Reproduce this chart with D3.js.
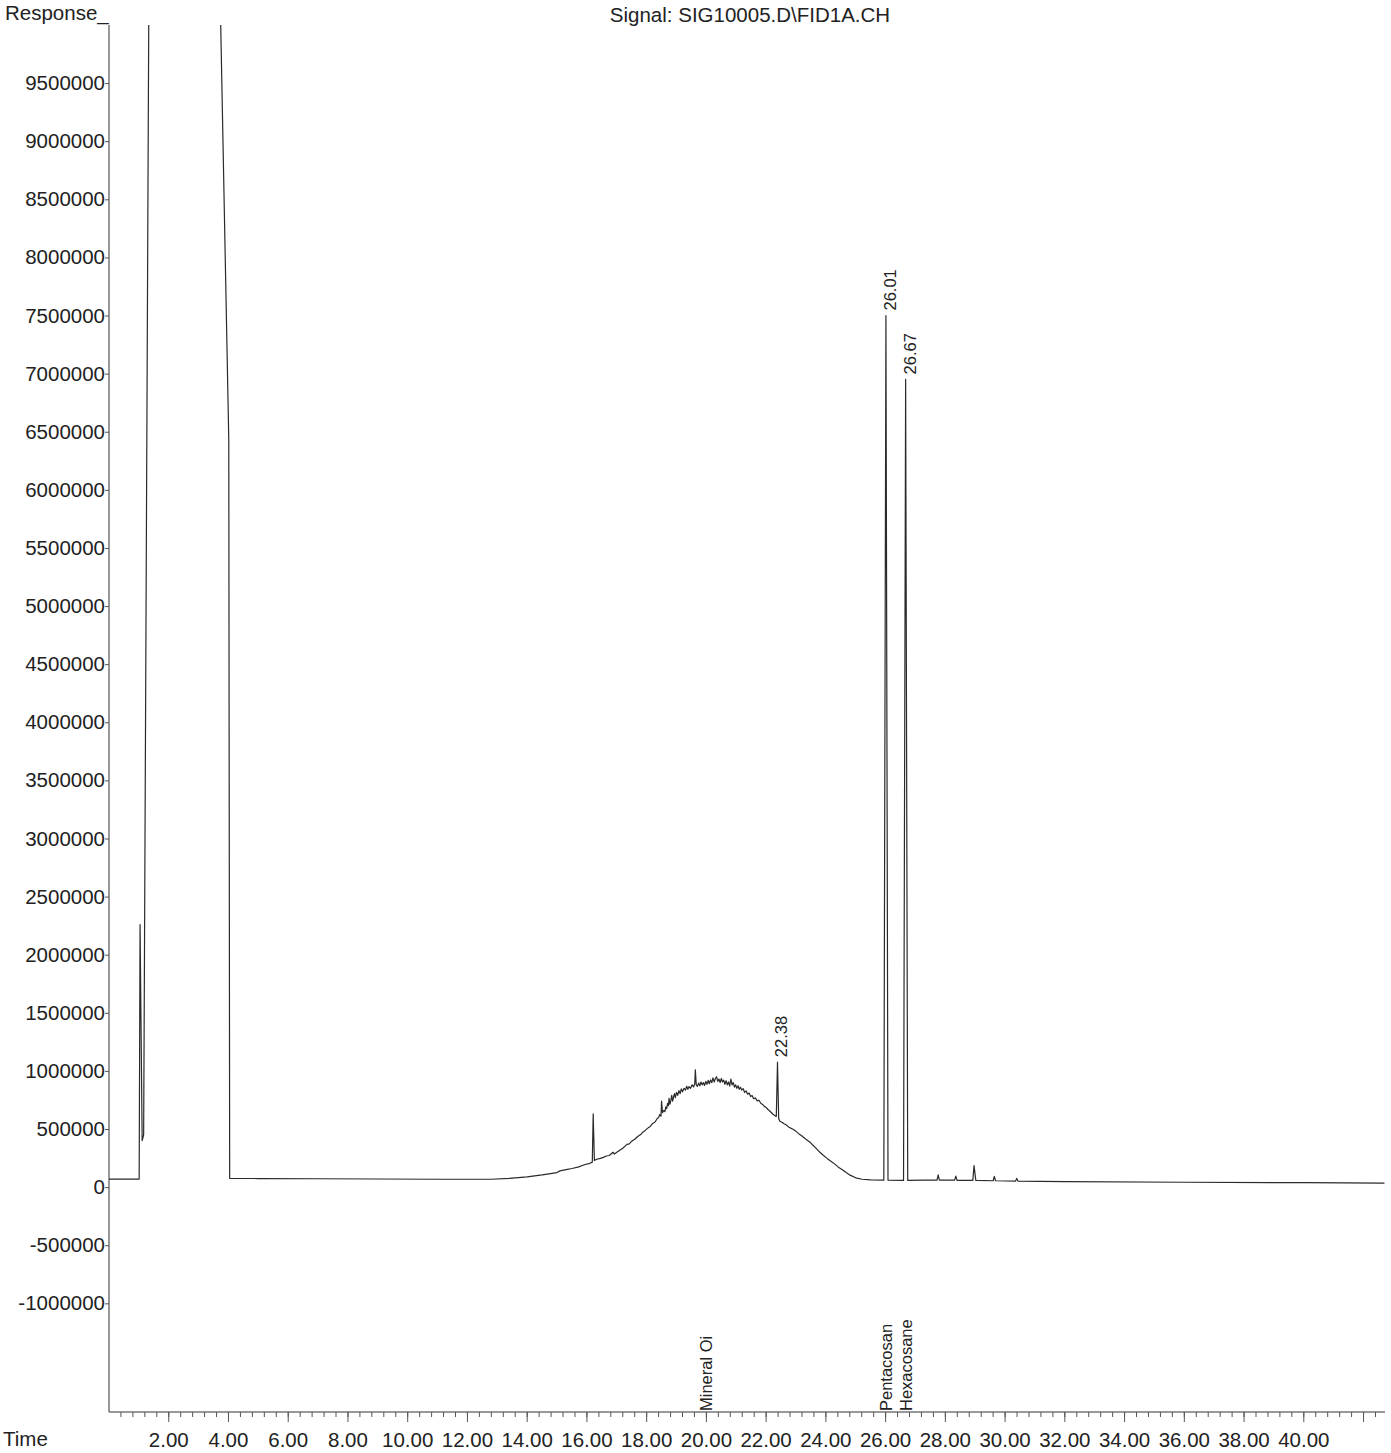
<!DOCTYPE html>
<html>
<head>
<meta charset="utf-8">
<script src="https://cdn.jsdelivr.net/npm/d3@7"></script>
<style>
  body { margin: 0; background: #fff; }
  svg text { font-family: "Liberation Sans", Arial, sans-serif; fill: #222; }
</style>
</head>
<body>
<div id="chart"></div>
<script>
// chromatogram signal (time in min, response counts)
var titleText = "Signal: SIG10005.D\\FID1A.CH";

var baselineStart = [[0.0, 69000], [1.01, 69000]];

// small spike + solvent peak (off scale)
var solventPeak = [
  [1.04, 2260000], [1.11, 400000], [1.16, 450000], [1.33, 10000000],
  [1.38, 13000000], [3.60, 13000000], [3.74, 10000000], [4.01, 6430000],
  [4.04, 76000]
];

var flatRun = [
  [5.0, 74000], [7.0, 72000], [9.0, 70000], [11.0, 68000], [12.8, 68000]
];

// mineral oil hump (noisy top)
var hump = [
  [13.4, 75000], [14.0, 88000], [14.5, 105000], [15.0, 125000], [15.10, 140000],
  [15.30, 150000], [15.50, 160000], [15.70, 172000], [15.94, 195000], [16.10, 205000],
  [16.18, 215000], [16.21, 630000], [16.25, 230000], [16.33, 240000], [16.45, 248000],
  [16.55, 256000], [16.65, 268000], [16.75, 272000], [16.87, 300000], [16.92, 285000],
  [17.00, 300000], [17.10, 318000], [17.20, 335000], [17.34, 368000], [17.42, 372000],
  [17.50, 395000], [17.60, 412000], [17.70, 436000], [17.80, 452000], [17.88, 475000],
  [17.95, 488000], [18.05, 510000], [18.12, 522000], [18.20, 548000], [18.28, 560000],
  [18.35, 588000], [18.40, 600000], [18.44, 625000], [18.48, 610000], [18.50, 740000],
  [18.53, 640000], [18.57, 660000], [18.61, 650000], [18.64, 690000], [18.67, 675000],
  [18.70, 720000], [18.73, 700000], [18.75, 765000], [18.78, 715000], [18.81, 745000],
  [18.84, 790000], [18.87, 740000], [18.90, 775000], [18.93, 805000], [18.96, 770000],
  [19.00, 815000], [19.04, 790000], [19.08, 830000], [19.12, 805000], [19.16, 845000],
  [19.20, 820000], [19.25, 850000], [19.30, 835000], [19.34, 868000], [19.38, 842000],
  [19.42, 865000], [19.47, 850000], [19.52, 880000], [19.57, 862000], [19.61, 890000],
  [19.63, 1010000], [19.66, 880000], [19.70, 868000], [19.74, 895000], [19.78, 872000],
  [19.82, 905000], [19.86, 880000], [19.90, 900000], [19.94, 875000], [19.98, 910000],
  [20.02, 885000], [20.06, 918000], [20.10, 890000], [20.14, 922000], [20.18, 900000],
  [20.22, 940000], [20.26, 905000], [20.30, 935000], [20.34, 950000], [20.38, 910000],
  [20.42, 930000], [20.46, 900000], [20.50, 935000], [20.54, 905000], [20.58, 920000],
  [20.62, 885000], [20.66, 915000], [20.70, 880000], [20.74, 905000], [20.78, 870000],
  [20.82, 930000], [20.86, 880000], [20.90, 900000], [20.94, 860000], [20.98, 880000],
  [21.02, 850000], [21.06, 872000], [21.10, 842000], [21.14, 860000], [21.18, 835000],
  [21.23, 848000], [21.28, 815000], [21.33, 828000], [21.38, 800000], [21.43, 810000],
  [21.48, 780000], [21.53, 788000], [21.58, 760000], [21.64, 768000], [21.70, 742000],
  [21.76, 748000], [21.82, 722000], [21.88, 712000], [21.94, 695000], [22.00, 686000],
  [22.06, 668000], [22.12, 655000], [22.18, 640000], [22.23, 627000], [22.30, 615000],
  [22.34, 608000], [22.38, 1075000], [22.42, 590000], [22.46, 567000], [22.53, 558000],
  [22.60, 545000], [22.68, 535000], [22.75, 518000], [22.82, 508000], [22.90, 498000],
  [23.00, 480000], [23.10, 458000], [23.20, 440000], [23.30, 418000], [23.40, 400000],
  [23.47, 387000], [23.56, 362000], [23.65, 340000], [23.72, 320000], [23.80, 300000],
  [23.92, 272000], [24.05, 245000], [24.18, 220000], [24.30, 198000], [24.42, 172000],
  [24.55, 150000], [24.68, 125000], [24.81, 103000], [25.00, 80000], [25.21, 68000]
];

// internal standards
var standardPeaks = [
  [25.50, 62000], [25.94, 60000], [26.01, 7500000], [26.08, 60000],
  [26.60, 58000], [26.67, 6950000], [26.74, 58000]
];

var tail = [
  [27.30, 60000], [27.72, 60000], [27.76, 105000], [27.80, 60000],
  [28.31, 60000], [28.35, 95000], [28.39, 58000], [28.92, 58000],
  [28.96, 185000], [29.02, 58000], [29.60, 55000], [29.64, 92000],
  [29.68, 55000], [30.35, 52000], [30.39, 75000], [30.43, 52000],
  [32.0, 48000], [36.0, 42000], [40.0, 38000], [42.7, 34000]
];

// retention time labels at peak tops
var rtLabels = ["22.38", "26.01", "26.67"];
var rtTimes = [22.38, 26.01, 26.67];
var rtHeights = [1075000, 7500000, 6950000];

// compound names along the time axis
var compoundNames = ["Mineral Oi", "Pentacosan", "Hexacosane"];
var compoundTimes = [20.0, 26.01, 26.67];

var yTickValues = d3.range(-1000000, 9500001, 500000);
var xMajorTicks = d3.range(2, 42.01, 2);
var xMinorTicks = d3.range(0.4, 42.7, 0.4);

var width = 1391, height = 1453;
var plotLeft = 109, plotRight = 1385, plotTop = 25, plotBottom = 1412;

var svg = d3.select("#chart").append("svg")
    .attr("width", width)
    .attr("height", height);

// 29.87 px per minute on the print
var x = d3.scaleLinear().domain([0, (plotRight - plotLeft) / 29.87]).range([plotLeft, plotRight]);
var y = d3.scaleLinear().domain([-1935000, 10000000]).range([plotBottom, plotTop]);

svg.append("defs").append("clipPath").attr("id", "plotclip")
  .append("rect")
    .attr("x", plotLeft).attr("y", plotTop)
    .attr("width", plotRight - plotLeft).attr("height", plotBottom - plotTop);

// trace
var trace = [].concat(baselineStart, solventPeak, flatRun, hump, standardPeaks, tail);

var line = d3.line()
    .x(function(d) { return x(d[0]); })
    .y(function(d) { return y(d[1]); });

svg.append("path")
    .datum(trace)
    .attr("clip-path", "url(#plotclip)")
    .attr("fill", "none")
    .attr("stroke", "#2a2a2a")
    .attr("stroke-width", 1.2)
    .attr("stroke-linejoin", "round")
    .attr("d", line);

// y axis
var yAxis = d3.axisLeft(y)
    .tickValues(yTickValues)
    .tickSize(4)
    .tickSizeOuter(0)
    .tickPadding(0)
    .tickFormat(function(d) { return String(d); });

var gy = svg.append("g")
    .attr("transform", "translate(" + plotLeft + ",0)")
    .call(yAxis);
gy.select(".domain").attr("stroke", "#333").attr("d", "M0," + plotTop + "V" + plotBottom);
gy.selectAll(".tick line").attr("stroke", "#555");
gy.selectAll(".tick text")
    .style("font-size", "20.5px")
    .style("font-family", "'Liberation Sans', Arial, sans-serif")
    .attr("fill", "#222");

// x axis: minor ticks then labelled major ticks
var gx = svg.append("g")
    .attr("transform", "translate(0," + plotBottom + ")");

gx.append("path")
    .attr("stroke", "#333")
    .attr("fill", "none")
    .attr("d", "M" + plotLeft + ",0H" + plotRight);

gx.selectAll(".minor")
    .data(xMinorTicks)
  .enter().append("line")
    .attr("class", "minor")
    .attr("x1", function(d) { return x(d); })
    .attr("x2", function(d) { return x(d); })
    .attr("y1", 0).attr("y2", 5)
    .attr("stroke", "#555");

gx.selectAll(".major")
    .data(xMajorTicks)
  .enter().append("line")
    .attr("class", "major")
    .attr("x1", function(d) { return x(d); })
    .attr("x2", function(d) { return x(d); })
    .attr("y1", 0).attr("y2", 10)
    .attr("stroke", "#555");

gx.selectAll(".xlabel")
    .data(xMajorTicks.filter(function(d) { return d <= 40; }))
  .enter().append("text")
    .attr("class", "xlabel")
    .attr("x", function(d) { return x(d); })
    .attr("y", 35)
    .attr("text-anchor", "middle")
    .style("font-size", "20.5px")
    .text(function(d) { return d.toFixed(2); });

// titles
svg.append("text")
    .attr("x", 5).attr("y", 20)
    .style("font-size", "20.5px")
    .text("Response_");

svg.append("text")
    .attr("x", 3).attr("y", 1446)
    .style("font-size", "20.5px")
    .text("Time");

svg.append("text")
    .attr("x", 750).attr("y", 22)
    .attr("text-anchor", "middle")
    .style("font-size", "20.5px")
    .text(titleText);

// retention time labels
svg.selectAll(".rt")
    .data(rtLabels)
  .enter().append("text")
    .attr("class", "rt")
    .attr("transform", function(d, i) {
      return "translate(" + (x(rtTimes[i]) + 10) + "," + (y(rtHeights[i]) - 5) + ") rotate(-90)";
    })
    .style("font-size", "16.5px")
    .text(function(d) { return d; });

// compound names
svg.selectAll(".cmp")
    .data(compoundNames)
  .enter().append("text")
    .attr("class", "cmp")
    .attr("transform", function(d, i) {
      return "translate(" + (x(compoundTimes[i]) + 6) + "," + (plotBottom - 1) + ") rotate(-90)";
    })
    .style("font-size", "16.5px")
    .text(function(d) { return d; });
</script>
</body>
</html>
